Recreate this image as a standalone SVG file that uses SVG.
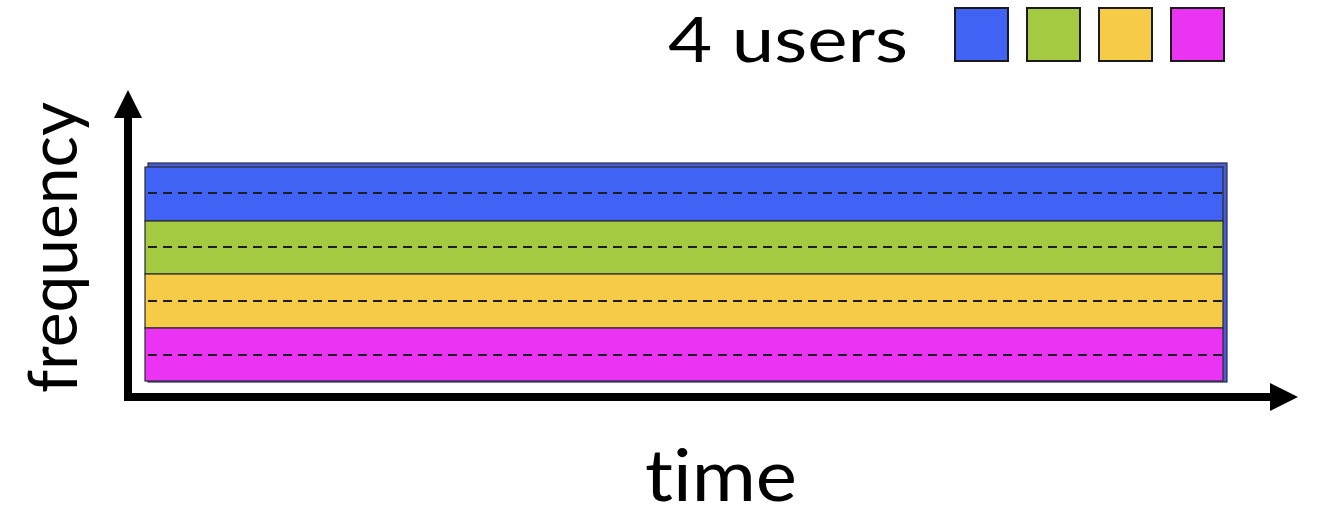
<svg xmlns="http://www.w3.org/2000/svg" width="1334" height="530" viewBox="0 0 1334 530">
<style>
.lbl{font-family:Lato,"Open Sans","Liberation Sans",sans-serif;fill:#000;font-variant-ligatures:none;font-feature-settings:"liga" 0,"dlig" 0}
.band{stroke:#2a2a2a;stroke-width:1.2}
.dash{stroke:#1e1e2a;stroke-width:1.8;stroke-dasharray:9 6;fill:none}
.sq{stroke:#1a1a1a;stroke-width:2}
.axis{stroke:#000;stroke-width:8;fill:none}
</style>
<rect width="1334" height="530" fill="#fff"/>
<g id="legend">
<text class="lbl" x="668" y="62" font-size="61" textLength="240" lengthAdjust="spacingAndGlyphs">4 users</text>
<rect class="sq" x="955" y="8" width="53" height="53" fill="#4062F5"/>
<rect class="sq" x="1027" y="8" width="53" height="53" fill="#A3CA40"/>
<rect class="sq" x="1099" y="8" width="53" height="53" fill="#F6CB47"/>
<rect class="sq" x="1171" y="8" width="53" height="53" fill="#EB33F4"/>
</g>
<g id="channels">
<rect x="148" y="163" width="1079" height="219" fill="#4a5fcf" stroke="#2a2a55" stroke-width="1.2"/>
<rect class="band" x="145" y="167" width="1078" height="54" fill="#4062F5"/>
<rect class="band" x="145" y="221" width="1078" height="53" fill="#A3CA40"/>
<rect class="band" x="145" y="274" width="1078" height="54" fill="#F6CB47"/>
<rect class="band" x="145" y="328" width="1078" height="53" fill="#EB33F4"/>
<line class="dash" x1="148" y1="193" x2="1223" y2="193"/>
<line class="dash" x1="148" y1="247" x2="1223" y2="247"/>
<line class="dash" x1="148" y1="301" x2="1223" y2="301"/>
<line class="dash" x1="148" y1="355" x2="1223" y2="355"/>
</g>
<g id="axes">
<line class="axis" x1="128" y1="401" x2="128" y2="116"/>
<polygon points="128,90 114,118 142,118" fill="#000"/>
<line class="axis" x1="124" y1="397" x2="1272" y2="397"/>
<polygon points="1298,397 1270,383 1270,411" fill="#000"/>
</g>
<g id="axis-labels">
<text class="lbl" x="645" y="501" font-size="72" textLength="152" lengthAdjust="spacingAndGlyphs">time</text>
<text class="lbl" transform="translate(77,393) rotate(-90)" x="0" y="0" font-size="67" textLength="291" lengthAdjust="spacingAndGlyphs">frequency</text>
</g>
</svg>
